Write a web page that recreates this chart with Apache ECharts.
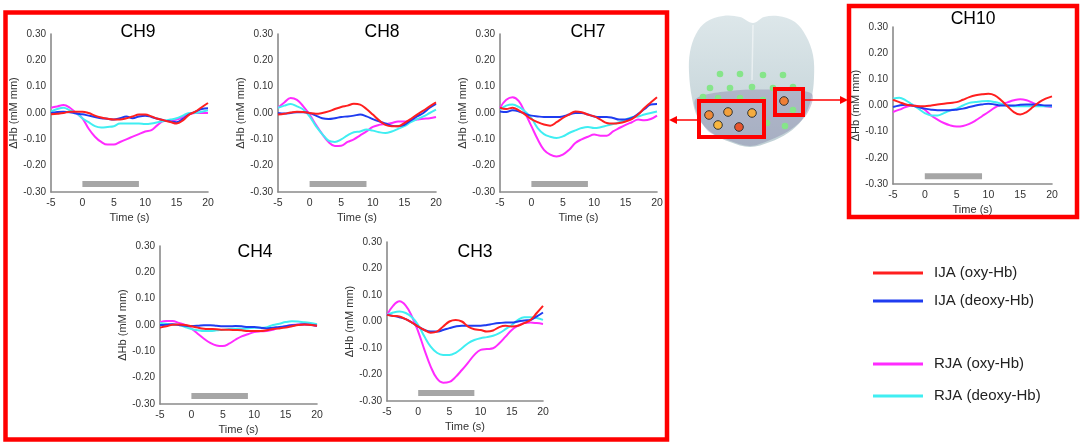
<!DOCTYPE html>
<html>
<head>
<meta charset="utf-8">
<script src="https://cdn.jsdelivr.net/npm/echarts@6/dist/echarts.min.js"></script>
<style>html,body{margin:0;padding:0;background:#fff}#c{width:1084px;height:447px}</style>
</head>
<body>
<div id="c"></div>
<script>
// time axis (s)
const time = [-5,-4,-3,-2,-1,0,1,2,3,4,5,6,7,8,9,10,11,12,13,14,15,16,17,18,19,20];
const xTicks = [-5, 0, 5, 10, 15, 20];
const yTicks = [-0.3, -0.2, -0.1, 0, 0.1, 0.2, 0.3];
const stimulus = [0, 9];
const stimLevel = -0.27;
const seriesNames = ['RJA (oxy-Hb)', 'RJA (deoxy-Hb)', 'IJA (deoxy-Hb)', 'IJA (oxy-Hb)'];
const channelNames = ['CH9', 'CH8', 'CH7', 'CH4', 'CH3', 'CH10'];

// CH9
const ch9RjaOxy   = [0.02,0.025,0.03,0.02,0.0,-0.02,-0.06,-0.09,-0.11,-0.12,-0.12,-0.11,-0.10,-0.09,-0.08,-0.07,-0.065,-0.045,-0.03,-0.03,-0.025,-0.015,-0.005,0.0,0.0,0.0];
const ch9RjaDeoxy = [0.005,0.015,0.02,0.01,0.0,-0.02,-0.035,-0.05,-0.055,-0.053,-0.05,-0.04,-0.04,-0.04,-0.04,-0.042,-0.04,-0.035,-0.03,-0.025,-0.02,-0.01,0.0,0.0,0.005,0.01];
const ch9IjaDeoxy = [0.0,0.004,0.005,0.003,-0.002,-0.005,-0.01,-0.015,-0.02,-0.022,-0.025,-0.02,-0.013,-0.02,-0.013,-0.01,-0.015,-0.022,-0.028,-0.032,-0.035,-0.022,-0.005,0.005,0.015,0.018];
const ch9IjaOxy   = [-0.005,-0.003,0.0,0.005,0.005,0.005,0.0,-0.01,-0.017,-0.022,-0.025,-0.025,-0.02,-0.013,-0.006,-0.006,-0.013,-0.022,-0.028,-0.034,-0.04,-0.028,-0.006,0.005,0.022,0.038];
// CH8
const ch8RjaOxy   = [0.02,0.04,0.057,0.05,0.025,-0.006,-0.045,-0.08,-0.11,-0.125,-0.124,-0.11,-0.10,-0.085,-0.07,-0.053,-0.045,-0.042,-0.038,-0.032,-0.032,-0.028,-0.025,-0.022,-0.02,-0.015];
const ch8RjaDeoxy = [0.02,0.028,0.034,0.025,0.013,-0.013,-0.05,-0.08,-0.105,-0.11,-0.10,-0.085,-0.073,-0.07,-0.063,-0.067,-0.073,-0.076,-0.07,-0.06,-0.05,-0.035,-0.023,-0.013,0.0,0.013];
const ch8IjaDeoxy = [0.0,-0.002,0.0,0.003,0.003,0.0,-0.01,-0.02,-0.023,-0.02,-0.015,-0.013,-0.01,-0.006,-0.013,-0.023,-0.032,-0.04,-0.048,-0.05,-0.045,-0.028,-0.013,0.0,0.02,0.035];
const ch8IjaOxy   = [-0.006,-0.003,0.002,0.005,0.004,0.0,-0.003,0.0,0.006,0.015,0.023,0.028,0.035,0.032,0.015,-0.006,-0.028,-0.045,-0.05,-0.05,-0.038,-0.023,-0.006,0.009,0.025,0.04];
// CH7
const ch7RjaOxy   = [0.02,0.05,0.06,0.045,0.0,-0.05,-0.10,-0.14,-0.158,-0.165,-0.158,-0.14,-0.114,-0.10,-0.09,-0.082,-0.086,-0.086,-0.07,-0.057,-0.045,-0.035,-0.025,-0.028,-0.023,-0.01];
const ch7RjaDeoxy = [0.013,0.028,0.032,0.023,0.006,-0.019,-0.057,-0.08,-0.09,-0.095,-0.089,-0.076,-0.066,-0.057,-0.053,-0.057,-0.054,-0.048,-0.042,-0.035,-0.025,-0.016,-0.013,-0.006,0.0,0.006];
const ch7IjaDeoxy = [0.006,0.004,0.01,0.006,-0.003,-0.01,-0.013,-0.015,-0.015,-0.015,-0.013,-0.006,0.0,0.0,-0.006,-0.013,-0.015,-0.015,-0.019,-0.025,-0.025,-0.019,-0.003,0.015,0.032,0.034];
const ch7IjaOxy   = [0.02,0.015,0.02,0.01,-0.006,-0.023,-0.035,-0.044,-0.048,-0.035,-0.019,-0.006,0.006,0.003,-0.006,-0.013,-0.025,-0.038,-0.04,-0.038,-0.032,-0.023,-0.006,0.019,0.04,0.06];
// CH4
const ch4RjaOxy   = [0.011,0.015,0.015,0.008,0.0,-0.014,-0.033,-0.052,-0.068,-0.078,-0.08,-0.071,-0.056,-0.043,-0.035,-0.027,-0.024,-0.023,-0.018,-0.01,-0.005,0.0,0.002,0.002,0.001,-0.003];
const ch4RjaDeoxy = [0.008,0.005,0.001,0.0,-0.008,-0.015,-0.02,-0.023,-0.023,-0.02,-0.018,-0.015,-0.014,-0.014,-0.013,-0.01,-0.01,-0.008,0.0,0.005,0.011,0.014,0.013,0.01,0.008,0.003];
const ch4IjaDeoxy = [0.0,0.001,0.003,0.0,-0.003,-0.004,-0.003,-0.001,-0.001,-0.003,-0.005,-0.005,-0.004,-0.005,-0.008,-0.008,-0.01,-0.013,-0.01,-0.008,-0.005,-0.001,0.001,0.003,0.001,-0.003];
const ch4IjaOxy   = [-0.01,-0.005,0.001,0.002,0.0,-0.005,-0.01,-0.014,-0.015,-0.016,-0.018,-0.018,-0.019,-0.02,-0.023,-0.023,-0.023,-0.02,-0.015,-0.013,-0.01,-0.005,0.0,0.002,0.0,-0.003];
// CH3
const ch3RjaOxy   = [0.025,0.06,0.076,0.06,0.019,-0.038,-0.107,-0.17,-0.215,-0.231,-0.228,-0.209,-0.183,-0.155,-0.126,-0.107,-0.104,-0.101,-0.082,-0.057,-0.032,-0.016,-0.006,-0.004,-0.006,-0.009];
const ch3RjaDeoxy = [0.025,0.034,0.038,0.032,0.016,-0.013,-0.057,-0.095,-0.118,-0.126,-0.126,-0.118,-0.101,-0.082,-0.07,-0.063,-0.059,-0.054,-0.044,-0.029,-0.013,0.006,0.016,0.016,0.013,0.006];
const ch3IjaDeoxy = [0.025,0.021,0.016,0.009,-0.004,-0.019,-0.032,-0.038,-0.038,-0.032,-0.025,-0.019,-0.016,-0.016,-0.016,-0.016,-0.013,-0.009,-0.006,-0.004,-0.004,0.0,0.004,0.006,0.019,0.034];
const ch3IjaOxy   = [0.025,0.021,0.019,0.009,-0.004,-0.019,-0.032,-0.042,-0.038,-0.019,0.0,0.006,0.0,-0.019,-0.029,-0.032,-0.038,-0.034,-0.021,-0.016,-0.019,-0.016,-0.006,0.006,0.032,0.059];
// CH10
const ch10RjaOxy   = [-0.025,-0.016,-0.006,0.0,-0.003,-0.016,-0.038,-0.054,-0.067,-0.076,-0.08,-0.078,-0.07,-0.057,-0.041,-0.025,-0.008,0.003,0.012,0.02,0.024,0.02,0.01,0.0,-0.003,-0.006];
const ch10RjaDeoxy = [0.026,0.03,0.02,0.004,-0.012,-0.029,-0.038,-0.038,-0.029,-0.018,-0.012,0.0,0.01,0.013,0.016,0.017,0.013,0.007,0.0,-0.003,-0.003,-0.003,-0.002,-0.003,-0.003,-0.003];
const ch10IjaDeoxy = [-0.006,0.0,0.003,0.0,-0.006,-0.012,-0.016,-0.018,-0.018,-0.018,-0.016,-0.012,-0.006,0.0,0.004,0.007,0.004,0.0,0.0,0.0,0.003,0.004,0.004,0.003,0.0,0.0];
const ch10IjaOxy   = [0.022,0.013,0.004,0.0,-0.003,-0.003,0.0,0.004,0.007,0.01,0.013,0.022,0.032,0.039,0.043,0.045,0.039,0.02,-0.003,-0.025,-0.034,-0.025,-0.006,0.013,0.026,0.035];

const channelData = [
  [ch9RjaOxy, ch9RjaDeoxy, ch9IjaDeoxy, ch9IjaOxy],
  [ch8RjaOxy, ch8RjaDeoxy, ch8IjaDeoxy, ch8IjaOxy],
  [ch7RjaOxy, ch7RjaDeoxy, ch7IjaDeoxy, ch7IjaOxy],
  [ch4RjaOxy, ch4RjaDeoxy, ch4IjaDeoxy, ch4IjaOxy],
  [ch3RjaOxy, ch3RjaDeoxy, ch3IjaDeoxy, ch3IjaOxy],
  [ch10RjaOxy, ch10RjaDeoxy, ch10IjaDeoxy, ch10IjaOxy]
];

// ---- layout / style ----
const colors = ['#ff2bff', '#40eef2', '#1f3cf0', '#ff1f1f'];
const gridBoxes = [
  {left: 51,  top: 34,  width: 157, height: 158},
  {left: 278, top: 34,  width: 158, height: 158},
  {left: 500, top: 34,  width: 157, height: 158},
  {left: 160, top: 246, width: 157, height: 158},
  {left: 387, top: 242, width: 156, height: 159},
  {left: 893, top: 27,  width: 159, height: 157}
];
const titlePos = [[138,32],[382,32],[588,32],[255,252],[475,252],[973,19]];

const FONT = 'Liberation Sans, Arial, Helvetica, sans-serif';
const grids = [], xAxes = [], yAxes = [], series = [];
gridBoxes.forEach((g, i) => {
  grids.push(Object.assign({containLabel: false}, g));
  xAxes.push({
    type: 'value', gridIndex: i, min: xTicks[0], max: xTicks[xTicks.length-1], interval: xTicks[1]-xTicks[0],
    axisLine: {show: true, onZero: false, lineStyle: {color: '#8a8a8a', width: 1.6}},
    axisTick: {show: false}, splitLine: {show: false},
    axisLabel: {fontSize: 10.5, color: '#333', margin: 6, fontFamily: FONT},
    name: 'Time (s)', nameLocation: 'middle', nameGap: 20,
    nameTextStyle: {fontSize: 11, color: '#333', fontFamily: FONT}
  });
  yAxes.push({
    type: 'value', gridIndex: i, min: yTicks[0], max: yTicks[yTicks.length-1], interval: 0.1,
    axisLine: {show: true, onZero: false, lineStyle: {color: '#8a8a8a', width: 1.6}},
    axisTick: {show: false}, splitLine: {show: false},
    axisLabel: {fontSize: 10, color: '#333', margin: 5, fontFamily: FONT,
      formatter: v => (Math.abs(v) < 1e-9 ? 0 : v).toFixed(2)},
    name: 'ΔHb (mM mm)', nameLocation: 'middle', nameGap: 30,
    nameTextStyle: {fontSize: 11, color: '#333', fontFamily: FONT}
  });
  series.push({
    type: 'line', name: 'stimulus', xAxisIndex: i, yAxisIndex: i, silent: true,
    data: stimulus.map(x => [x, stimLevel]), symbol: 'none',
    lineStyle: {width: 6, color: '#a6a6a6', cap: 'butt'}, z: 1
  });
  channelData[i].forEach((arr, k) => {
    series.push({
      type: 'line', name: seriesNames[k], xAxisIndex: i, yAxisIndex: i,
      data: time.map((x, j) => [x, arr[j]]), smooth: 0.4, showSymbol: false, symbol: 'none',
      lineStyle: {width: 2, color: colors[k]}, itemStyle: {color: colors[k]}, z: 2 + k
    });
  });
});

const graphics = [];
// titles
channelNames.forEach((n, i) => {
  graphics.push({type: 'text', x: titlePos[i][0], y: titlePos[i][1], z: 10,
    style: {text: n, fontSize: 17.5, fontFamily: FONT, fill: '#000', align: 'center', verticalAlign: 'middle', textAlign: 'center', textVerticalAlign: 'middle'}});
});
// brain
graphics.push({type: 'polygon', z: 1, shape: {smooth: 0.35, points: [[753,23],[740,17],[723,16],[706,22],[696,34],[690,52],[689,72],[692,98],[698,118],[712,133],[730,142],[750,147],[770,142],[788,133],[802,120],[811,100],[814,78],[813,55],[806,36],[795,22],[778,16],[764,17]]},
  style: {fill: new echarts.graphic.LinearGradient(0,0,0,1,[{offset:0,color:'#dde7ea'},{offset:1,color:'#c0d0d5'}]), stroke: 'none'}});
graphics.push({type: 'polygon', z: 2, shape: {smooth: 0.3, points: [[695,100],[730,91],[780,90],[812,94],[807,114],[790,130],[770,140],[750,146],[728,140],[707,130]]},
  style: {fill: 'rgba(120,115,160,0.35)', stroke: 'none'}});
graphics.push({type: 'line', z: 2, shape: {x1: 753, y1: 25, x2: 752, y2: 80}, style: {stroke: 'rgba(255,255,255,0.5)', lineWidth: 1.5}});
const greenDots = [[720,74],[740,74],[763,75],[783,75],[710,88],[730,88],[752,87],[773,88],[793,87],[718,98],[740,98],[763,100],[793,110],[767,123],[785,126],[703,97]];
greenDots.forEach(p => graphics.push({type: 'circle', z: 3, shape: {cx: p[0], cy: p[1], r: 3.3}, style: {fill: '#86e58a'}}));
const orangeDots = [[709,115,'#f08a3a'],[728,112,'#f3a03c'],[752,113,'#f5ac3e'],[718,125,'#f7b640'],[739,127,'#e8552e'],[784,101,'#ef7e36']];
orangeDots.forEach(p => graphics.push({type: 'circle', z: 4, shape: {cx: p[0], cy: p[1], r: 4.3}, style: {fill: p[2], stroke: '#333', lineWidth: 1}}));
// red boxes
const redBox = (x, y, w, h, lw) => graphics.push({type: 'rect', z: 5, shape: {x, y, width: w, height: h}, style: {fill: 'none', stroke: '#ff0000', lineWidth: lw}});
redBox(5.5, 12.5, 661.5, 427, 4.5);
redBox(849, 6, 228, 211, 4.5);
redBox(699, 101, 65, 36, 4);
redBox(775, 89, 28, 26, 4);
// arrows
graphics.push({type: 'line', z: 5, shape: {x1: 697, y1: 120, x2: 676, y2: 120}, style: {stroke: '#ff0000', lineWidth: 1.5}});
graphics.push({type: 'polygon', z: 5, shape: {points: [[669,120],[677,116],[677,124]]}, style: {fill: '#ff0000'}});
graphics.push({type: 'line', z: 5, shape: {x1: 805, y1: 100, x2: 841, y2: 100}, style: {stroke: '#ff0000', lineWidth: 1.5}});
graphics.push({type: 'polygon', z: 5, shape: {points: [[848,100],[840,96],[840,104]]}, style: {fill: '#ff0000'}});

const legendCommon = {orient: 'vertical', left: 868, icon: 'rect', itemWidth: 50, itemHeight: 3,
  textStyle: {fontSize: 15, lineHeight: 20, color: '#222', fontFamily: FONT, padding: [0,0,0,6]}, selectedMode: false};

const chart = echarts.init(document.getElementById('c'), null, {renderer: 'canvas'});
chart.setOption({
  animation: false,
  backgroundColor: '#fff',
  textStyle: {fontFamily: FONT},
  grid: grids, xAxis: xAxes, yAxis: yAxes, series: series,
  legend: [
    Object.assign({}, legendCommon, {top: 258, itemGap: 8, data: ['IJA (oxy-Hb)', 'IJA (deoxy-Hb)']}),
    Object.assign({}, legendCommon, {top: 349, itemGap: 12, data: ['RJA (oxy-Hb)', 'RJA (deoxy-Hb)']})
  ],
  graphic: graphics
});
</script>
</body>
</html>
